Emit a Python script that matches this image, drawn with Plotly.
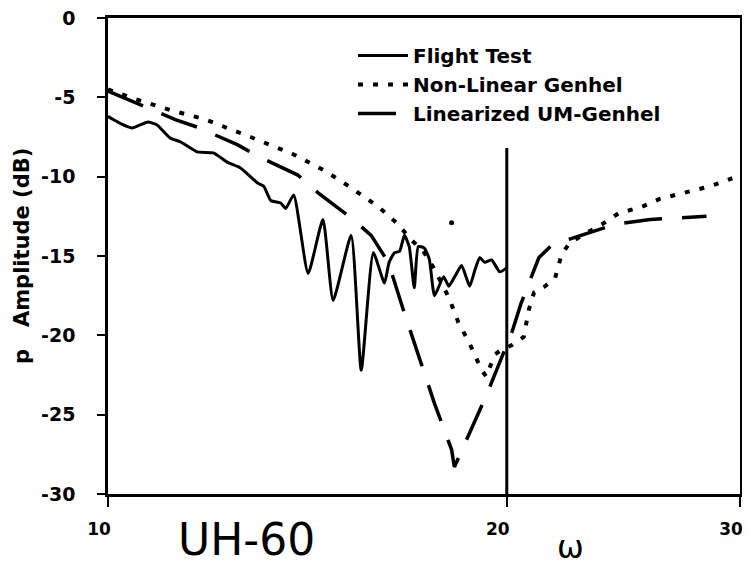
import plotly.graph_objects as go

# ---- data (frequency, amplitude dB) ----
flight_f = [10.00, 10.09, 10.25, 10.43, 10.60, 10.72, 10.89, 11.14, 11.34, 11.68, 12.01, 12.31,
            12.59, 12.97, 13.11, 13.27, 13.50, 13.62, 13.81, 14.16, 14.53, 14.79, 15.26, 15.53,
            15.86, 16.17, 16.30, 16.45, 16.60, 16.74, 16.88, 17.03, 17.15, 17.33, 17.48, 17.64,
            17.92, 18.08, 18.27, 18.49, 18.75, 18.92, 19.08, 19.25, 19.48, 19.76, 20.00]
flight_db = [-6.2, -6.4, -6.7, -6.93, -6.7, -6.55, -6.74, -7.56, -7.8, -8.44, -8.5, -9.1,
             -9.45, -10.4, -10.6, -11.5, -11.66, -12.0, -11.15, -16.1, -12.7, -17.8, -13.7, -22.2,
             -14.8, -16.7, -15.4, -14.8, -14.7, -13.7, -14.4, -17.0, -14.4, -14.5, -15.2, -17.5,
             -16.3, -16.9, -16.3, -15.6, -16.9, -15.9, -15.1, -15.4, -15.25, -16.0, -15.75]

nonlin_f = [10.0, 10.39, 11.14, 11.85, 12.81, 13.81, 14.56, 15.26, 16.0, 16.56, 16.9, 17.3,
            17.6, 18.08, 18.39, 18.72, 19.15, 19.3, 19.59, 19.83, 20.2, 20.6, 20.78, 20.97,
            21.34, 21.75, 22.0, 22.3, 22.8, 23.6, 24.3, 25.3, 26.1, 27.0, 27.8, 28.5, 29.6]
nonlin_db = [-4.5, -5.0, -5.8, -6.4, -7.5, -8.6, -9.6, -10.7, -11.9, -13.0, -13.9, -14.7,
             -15.7, -17.6, -19.2, -20.4, -22.2, -22.6, -21.2, -20.9, -20.6, -20.1, -18.4, -17.3,
             -16.95, -16.4, -14.9, -14.2, -13.7, -13.0, -12.3, -11.9, -11.4, -11.1, -10.8, -10.6, -10.1]

lin_f = [10.0, 11.24, 11.70, 12.53, 12.97, 13.91, 14.40, 15.26, 15.80, 16.28, 16.71, 17.15,
         17.64, 18.17, 18.26, 19.30, 19.93, 20.18, 20.50, 21.15, 21.64, 22.8, 24.15, 25.67, 26.8, 28.3]
lin_db = [-4.6, -6.4, -6.9, -8.0, -8.7, -9.9, -11.0, -12.6, -13.7, -15.4, -18.4, -21.3,
          -24.3, -27.2, -28.3, -23.8, -20.9, -19.8, -18.0, -15.1, -14.3, -13.7, -13.0, -12.7, -12.6, -12.5]

marker_f = [20.0, 20.0]
marker_db = [-8.2, -30.0]

stray_f = [18.17]
stray_db = [-12.9]

x_ticks = [10, 20, 30]
x_ticktext = ["10", "20", "30"]
y_ticks = [0, -5, -10, -15, -20, -25, -30]
y_ticktext = ["0", "-5", "-10", "-15", "-20", "-25", "-30"]

series_names = ["Flight Test", "Non-Linear Genhel", "Linearized UM-Genhel"]

FONT = "DejaVu Sans, Liberation Sans, Arial, sans-serif"

# page has an 8px body margin; plot area in page pixels: x 108..740, y 18..494
PL, PR, PT, PB = 108, 740, 18, 494


def px(xp):
    return (xp - PL) / (PR - PL)


def py(yp):
    return (PB - yp) / (PB - PT)


fig = go.Figure()
fig.add_trace(go.Scatter(x=flight_f, y=flight_db, mode="lines", name=series_names[0],
                         line=dict(color="black", width=3, shape="spline", smoothing=0.5)))
fig.add_trace(go.Scatter(x=nonlin_f, y=nonlin_db, mode="lines", name=series_names[1],
                         line=dict(color="black", width=4, dash="5px,10px")))
fig.add_trace(go.Scatter(x=lin_f, y=lin_db, mode="lines", name=series_names[2],
                         line=dict(color="black", width=3.5, dash="38px,20px")))
fig.add_trace(go.Scatter(x=marker_f, y=marker_db, mode="lines", showlegend=False,
                         line=dict(color="black", width=3), hoverinfo="skip"))
fig.add_trace(go.Scatter(x=stray_f, y=stray_db, mode="markers", showlegend=False,
                         marker=dict(color="black", size=5), hoverinfo="skip"))

fig.update_layout(
    width=742, height=560,
    margin=dict(l=PL - 8, r=742 - (PR - 8), t=PT - 8, b=560 - (PB - 8)),
    paper_bgcolor="white", plot_bgcolor="white",
    font=dict(family=FONT, color="black"),
    showlegend=True,
    legend=dict(x=px(353), y=py(36), xanchor="left", yanchor="top",
                bgcolor="rgba(0,0,0,0)", itemwidth=50, tracegroupgap=0,
                font=dict(size=20, weight="bold", family=FONT)),
    xaxis=dict(type="log", range=[1, 1.4771], tickvals=x_ticks, ticktext=x_ticktext,
               automargin=False, ticklabeloverflow="allow",
               showgrid=False, zeroline=False, showline=True, linecolor="black", linewidth=2.5,
               mirror=True, ticks="outside", ticklen=10, tickwidth=2, tickcolor="black",
               ticklabelstandoff=8, ticklabelshift=-9,
               tickfont=dict(size=17, weight="bold", family=FONT)),
    yaxis=dict(range=[-30, 0], tickvals=y_ticks, ticktext=y_ticktext,
               automargin=False, ticklabeloverflow="allow",
               showgrid=False, zeroline=False, showline=True, linecolor="black", linewidth=2.5,
               mirror=True, ticks="outside", ticklen=8, tickwidth=2, tickcolor="black",
               ticklabelstandoff=18,
               tickfont=dict(size=19, weight="bold", family=FONT)),
)

fig.add_annotation(text="p\u00a0\u00a0\u00a0Amplitude (dB)", textangle=-90,
                   xref="paper", yref="paper", x=px(22), y=py(256),
                   xanchor="center", yanchor="middle", showarrow=False,
                   font=dict(size=21, weight="bold", family=FONT))
fig.add_annotation(text="UH-60", xref="paper", yref="paper",
                   x=px(246), y=py(566), xanchor="center", yanchor="bottom",
                   showarrow=False, borderpad=0, font=dict(size=44, family=FONT))
fig.add_annotation(text="\u03c9", xref="paper", yref="paper",
                   x=px(570), y=py(547), xanchor="center", yanchor="middle",
                   showarrow=False, font=dict(size=32, family=FONT))

fig.write_html("out.html")
